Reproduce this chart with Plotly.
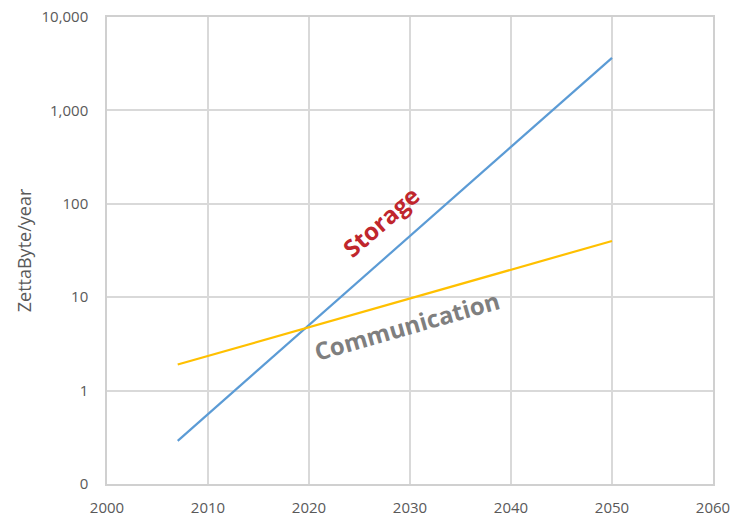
import plotly.graph_objects as go

# Projected annual data volume (ZettaByte/year)
years = [2007, 2050]
storage = [0.29, 3650]
communication = [1.9, 40]

x_ticks = [2000, 2010, 2020, 2030, 2040, 2050, 2060]
y_ticks = [0.1, 1, 10, 100, 1000, 10000]
y_tick_text = ["0", "1", "10", "100", "1,000", "10,000"]

fig = go.Figure()
fig.add_trace(go.Scatter(x=years, y=storage, mode="lines", name="Storage",
                         line=dict(color="#5b9bd5", width=2.2)))
fig.add_trace(go.Scatter(x=years, y=communication, mode="lines", name="Communication",
                         line=dict(color="#ffc000", width=2.2)))

fig.add_annotation(x=2027.1, y=1.81, yref="y", text="<b>Storage</b>", showarrow=False,
                   textangle=-41, font=dict(family="Open Sans", size=24, color="#c0262d"))
fig.add_annotation(x=2029.7, y=0.70, yref="y", text="<b>Communication</b>", showarrow=False,
                   textangle=-16, font=dict(family="Open Sans", size=24, color="#7f7f7f"))

axis_font = dict(family="Open Sans", size=15, color="#595959")
fig.update_xaxes(range=[2000, 2060], tickvals=x_ticks, showgrid=True, gridcolor="#d9d9d9",
                 gridwidth=1.5, showline=True, linecolor="#d0d0d0", linewidth=1.5, mirror=True,
                 zeroline=False, tickfont=axis_font, ticks="outside", ticklen=9,
                 tickcolor="rgba(0,0,0,0)", automargin=False)
fig.update_yaxes(type="log", range=[-1, 4], tickvals=y_ticks, ticktext=y_tick_text,
                 showgrid=True, gridcolor="#d9d9d9", gridwidth=1.5, showline=True,
                 linecolor="#d0d0d0", linewidth=1.5, mirror=True, zeroline=False,
                 tickfont=axis_font, ticks="outside", ticklen=14, tickcolor="rgba(0,0,0,0)",
                 automargin=False,
                 title=dict(text="ZettaByte/year", font=dict(family="Open Sans", size=18,
                                                               color="#595959"), standoff=5))

fig.update_layout(width=746, height=516, showlegend=False, plot_bgcolor="white",
                  paper_bgcolor="white", margin=dict(l=107, r=33, t=17, b=32))

fig.write_html("out.html")
